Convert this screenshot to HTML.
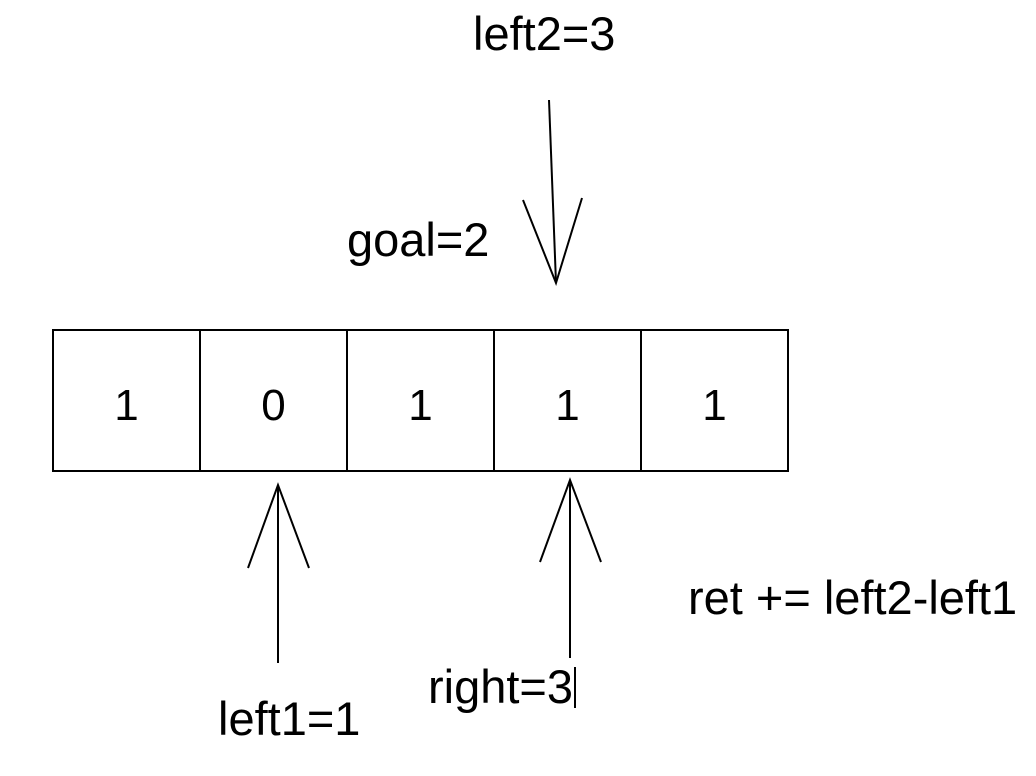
<!DOCTYPE html>
<html><head><meta charset="utf-8"><style>
html,body{margin:0;padding:0;background:#fff;}
svg{display:block;}
text{font-family:"Liberation Sans",Arial,sans-serif;fill:#000;}
</style></head><body>
<svg width="1036" height="776" viewBox="0 0 1036 776">
<g id="cells"></g>
<g stroke="#000" stroke-width="2" fill="none">
<line x1="549" y1="100" x2="556" y2="283"/>
<polyline points="523,200 556,283 582,198"/>
</g>
<g stroke="#000" stroke-width="2" fill="none">
<line x1="278" y1="485" x2="278" y2="663"/>
<polyline points="248,568 278,485 309,568"/>
</g>
<g stroke="#000" stroke-width="2" fill="none">
<line x1="570" y1="480" x2="570" y2="658"/>
<polyline points="540,562 570,480 601,562"/>
<line x1="575" y1="667" x2="575" y2="708"/>
</g>
<text x="473" y="50" font-size="47">left2=3</text>
<text x="347" y="256" font-size="47">goal=2</text>
<text x="688" y="614" font-size="47">ret += left2-left1</text>
<text x="428" y="703" font-size="47">right=3</text>
<text x="218" y="735" font-size="47">left1=1</text>
</svg>
<script>
const values=[1,0,1,1,1];
const g=document.getElementById('cells');
const NS='http://www.w3.org/2000/svg';
const x0=53,w=147,y0=330,h=141;
values.forEach((v,i)=>{
  const r=document.createElementNS(NS,'rect');
  r.setAttribute('x',x0+i*w);r.setAttribute('y',y0);r.setAttribute('width',w);r.setAttribute('height',h);
  r.setAttribute('fill','none');r.setAttribute('stroke','#000');r.setAttribute('stroke-width','2');
  
  
  g.appendChild(r);
  const t=document.createElementNS(NS,'text');
  t.setAttribute('x',x0+i*w+w/2);t.setAttribute('y',420);t.setAttribute('font-size','44');
  t.setAttribute('text-anchor','middle');t.textContent=v;
  
  
  g.appendChild(t);
});
</script>
</body></html>
